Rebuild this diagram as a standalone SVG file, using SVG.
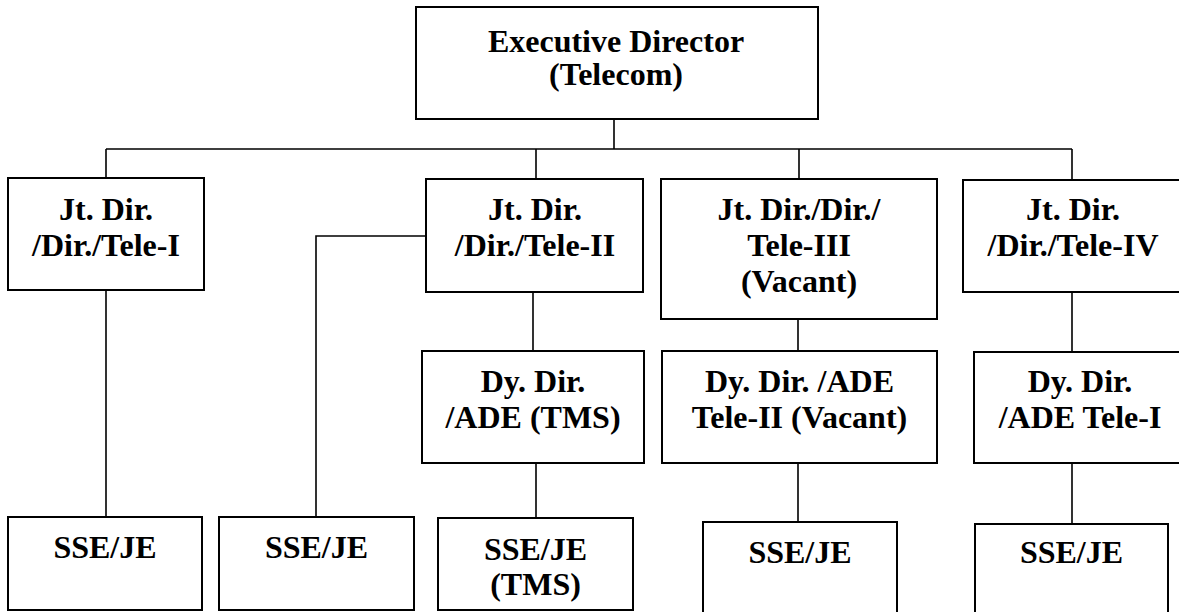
<svg xmlns="http://www.w3.org/2000/svg" width="1179" height="612" viewBox="0 0 1179 612">
<style>
.box{fill:#fff;stroke:#000;stroke-width:2}
.ln{fill:none;stroke:#000;stroke-width:1.6}
.t{font-family:'Liberation Serif','Tinos','DejaVu Serif',serif;font-weight:700;font-size:32px;text-anchor:middle;fill:#000}
</style>
<rect width="1179" height="612" fill="#fff"/>
<g id="connectors">
<path class="ln" d="M614 119V149M106 149H1072M106 149V178M536 149V179M799 149V179M1072 149V180"/>
<path class="ln" d="M106 290V517M426 236H316V517"/>
<path class="ln" d="M533 292V351M536 463V518"/>
<path class="ln" d="M798 319V351M798 463V522"/>
<path class="ln" d="M1072 292V352M1072 463V524"/>
</g>
<g id="exec" class="t"><rect class="box" x="416" y="7" width="402" height="112"/><text x="616" y="52">Executive Director</text><text x="616" y="85">(Telecom)</text></g>
<g id="tele1" class="t"><rect class="box" x="8" y="178" width="196" height="112"/><text x="106" y="220">Jt. Dir.</text><text x="106" y="256">/Dir./Tele-I</text></g>
<g id="tele2" class="t"><rect class="box" x="426" y="179" width="217" height="113"/><text x="535" y="220">Jt. Dir.</text><text x="535" y="256">/Dir./Tele-II</text></g>
<g id="tele3" class="t"><rect class="box" x="661" y="179" width="276" height="140"/><text x="799" y="220">Jt. Dir./Dir./</text><text x="799" y="256">Tele-III</text><text x="799" y="292">(Vacant)</text></g>
<g id="tele4" class="t"><rect class="box" x="963" y="180" width="220" height="112"/><text x="1073" y="220">Jt. Dir.</text><text x="1073" y="256">/Dir./Tele-IV</text></g>
<g id="dy-tms" class="t"><rect class="box" x="422" y="351" width="222" height="112"/><text x="533" y="392">Dy. Dir.</text><text x="533" y="428">/ADE (TMS)</text></g>
<g id="dy-tele2" class="t"><rect class="box" x="662" y="351" width="275" height="112"/><text x="799.5" y="392">Dy. Dir. /ADE</text><text x="799.5" y="428">Tele-II (Vacant)</text></g>
<g id="dy-tele1" class="t"><rect class="box" x="974" y="352" width="212" height="111"/><text x="1080" y="392">Dy. Dir.</text><text x="1080" y="428">/ADE Tele-I</text></g>
<g id="sse1" class="t"><rect class="box" x="8" y="517" width="194" height="93"/><text x="105" y="558">SSE/JE</text></g>
<g id="sse2" class="t"><rect class="box" x="219" y="517" width="195" height="93"/><text x="316.5" y="558">SSE/JE</text></g>
<g id="sse-tms" class="t"><rect class="box" x="438" y="518" width="195" height="92"/><text x="535.5" y="560">SSE/JE</text><text x="535.5" y="595">(TMS)</text></g>
<g id="sse4" class="t"><rect class="box" x="703" y="522" width="194" height="100"/><text x="800" y="563">SSE/JE</text></g>
<g id="sse5" class="t"><rect class="box" x="975" y="524" width="193" height="100"/><text x="1071.5" y="563">SSE/JE</text></g>
</svg>
